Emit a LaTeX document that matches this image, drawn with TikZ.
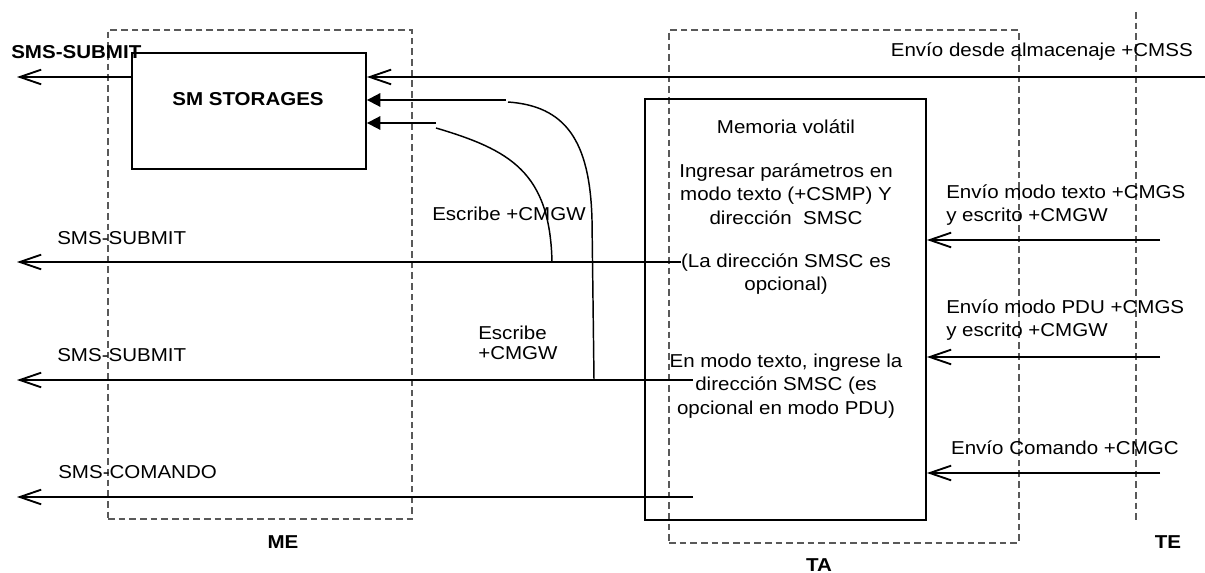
\documentclass[tikz,border=0pt]{standalone}
\usepackage{fontspec}
\setmainfont{Liberation Sans}[FakeStretch=1.1]
\usetikzlibrary{arrows.meta,fit}

\begin{document}
\begin{tikzpicture}[
  x=0.75pt, y=-0.75pt,
  font=\fontsize{14}{17.5}\selectfont,
  box/.style={draw, line width=1.4pt, inner sep=0pt},
  group/.style={draw=black!65, dash pattern=on 5pt off 3pt, line width=0.9pt, inner sep=0pt},
  lbl/.style={inner sep=0pt},
  head/.style={lbl, font=\fontsize{14}{17.5}\selectfont\bfseries},
  arr/.style={-{Straight Barb[length=16pt,width=11pt]}, line width=1.4pt},
  wr/.style={-{Triangle[length=10pt,width=10pt]}, line width=1.4pt},
  curveline/.style={line width=1.1pt},
]
\useasboundingbox (0,0) rectangle (1205,573);

% ---------- groups ----------
\node[group, fit={(108,30) (412,519)}] (me) {};
\node[group, fit={(669,30) (1019,543)}] (ta) {};
\coordinate (teTop) at (1136,12);
\coordinate (teBot) at (1136,520);
\draw[group] (teTop) -- (teBot);

\node[head] (meLbl) at (283,542) {ME};
\node[head] (taLbl) at (819,565) {TA};
\node[head] (teLbl) at (1168,542) {TE};

% ---------- boxes ----------
\node[box, fit={(132,53) (366,169)}] (store) {};
\node[head] (storeLbl) at (248,99) {SM STORAGES};
\node[box, fit={(645,99) (926,520)}] (mem) {};

\node[lbl] (memTitle) at (786,127) {Memoria volátil};
\node[lbl, align=center] (memPar) at (786,194)
  {Ingresar parámetros en\\ modo texto (+CSMP) Y\\ dirección\ \ SMSC};
\node[lbl, align=center] (memOpt) at (786,274)
  {(La dirección SMSC es\\ opcional)};
\node[lbl, align=center] (memPdu) at (786,386)
  {En modo texto, ingrese la\\ dirección SMSC (es\\ opcional en modo PDU)};

% ---------- inputs from TE ----------
\coordinate (inCmss) at (1205,77);
\coordinate (inTxt) at (1160,240);
\coordinate (inPdu) at (1160,357);
\coordinate (inCmd) at (1160,473);
\draw[arr] (inCmss) -- (inCmss -| store.east);
\draw[arr] (inTxt) -- (inTxt -| mem.east);
\draw[arr] (inPdu) -- (inPdu -| mem.east);
\draw[arr] (inCmd) -- (inCmd -| mem.east);

\node[lbl, anchor=east] (cmssLbl) at (1193,52) {Envío desde almacenaje +CMSS};
\node[lbl, anchor=west, align=left] (txtLbl) at (946,205)
  {Envío modo texto +CMGS\\ y escrito +CMGW};
\node[lbl, anchor=west, align=left] (pduLbl) at (946,320)
  {Envío modo PDU +CMGS\\ y escrito +CMGW};
\node[lbl, anchor=east] (cmdLbl) at (1179,448) {Envío Comando +CMGC};

% ---------- outputs of ME ----------
\coordinate (outTop) at (17,77);
\coordinate (subA) at (681,262);
\coordinate (outA) at (17,262);
\coordinate (subB) at (693,380);
\coordinate (outB) at (17,380);
\coordinate (cmdOut) at (693,497);
\coordinate (outC) at (17,497);
\draw[arr] (outTop -| store.west) -- (outTop);
\draw[arr] (subA) -- (outA);
\draw[arr] (subB) -- (outB);
\draw[arr] (cmdOut) -- (outC);

\node[head, anchor=west] (topLbl) at (11,52) {SMS-SUBMIT};
\node[lbl, anchor=west] (subALbl) at (57,238) {SMS-SUBMIT};
\node[lbl, anchor=west] (subBLbl) at (57,355) {SMS-SUBMIT};
\node[lbl, anchor=west] (cmdOutLbl) at (58,472) {SMS-COMANDO};

% ---------- writes into storage ----------
\coordinate (wrA) at (506,100);
\coordinate (wrB) at (436,123);
\coordinate (bendA) at (508,102);
\coordinate (bendB) at (436,128);
\coordinate (joinA) at (552,262);
\coordinate (joinB) at (594,380);
\draw[wr] (wrA) -- (wrA -| store.east);
\draw[wr] (wrB) -- (wrB -| store.east);
\draw[curveline] (bendA) .. controls (565,106) and (590,140) .. (592,220) -- (joinB);
\draw[curveline] (bendB) .. controls (510,150) and (550,172) .. (joinA);

\node[lbl, anchor=west] (wrALbl) at (432,214) {Escribe +CMGW};
\node[lbl, anchor=west, align=left] (wrBLbl) at (478,343) {Escribe\\[-2.5pt] +CMGW};

\end{tikzpicture}
\end{document}
